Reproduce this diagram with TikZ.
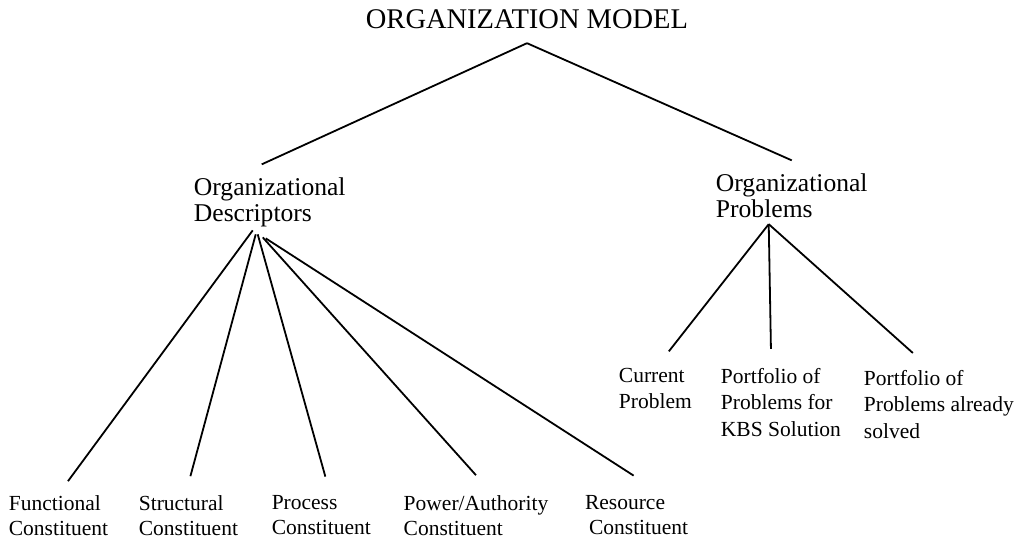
\documentclass[tikz,border=0pt]{standalone}
\usepackage{fontspec}
\setmainfont{Liberation Serif}
\usetikzlibrary{positioning}

\tikzset{
  head/.style={font=\fontsize{28.5}{30}\selectfont, inner sep=0pt},
  branch/.style={font=\fontsize{25.6}{26}\selectfont, align=left, inner sep=0pt},
  leaf/.style={font=\fontsize{21.5}{25}\selectfont, align=left, inner sep=0pt},
  probleaf/.style={leaf, font=\fontsize{21.5}{26.5}\selectfont},
}

\begin{document}
\begin{tikzpicture}[x=1pt,y=-1pt,line width=1.8pt,node distance=30pt]
  \useasboundingbox (0,0) rectangle (1016,544);

  % base anchor of a multi-line node sits on its last line
  \node[head, anchor=base] (model) at (527,28) {ORGANIZATION MODEL};
  \node[branch, anchor=base west] (desc) at (193,221) {Organizational\\Descriptors};
  \node[branch, anchor=base west] (prob) at (715,217) {Organizational\\Problems};

  \node[leaf, anchor=base west] (func) at (8,535) {Functional\\Constituent};
  \node[leaf] (struc) [right=29pt of func] {Structural\\Constituent};
  \node[leaf] (proc) [right=32pt of struc] {Process\\Constituent};
  \node[leaf] (power) [right=31pt of proc] {Power/Authority\\Constituent};
  \node[leaf] (res) [right=35pt of power] {Resource\\\hspace*{4pt}Constituent};

  \node[probleaf, anchor=base west] (cur) at (618,408.5) {Current\\Problem};
  \node[probleaf, anchor=base west] (kbs) at (720,436) {Portfolio of\\Problems for\\KBS Solution};
  \node[probleaf, anchor=base west] (solved) at (863,438) {Portfolio of\\Problems already\\solved};

  \path[draw]
    ([yshift=-14pt]model.south) edge ([xshift=-8pt,yshift=12pt]desc.north)
                                edge ([yshift=12pt]prob.north);

  \path[draw]
    ([xshift=-17pt,yshift=-3pt]desc.south) edge ([xshift=9.5pt,yshift=13pt]func.north)
    ([xshift=-14pt,yshift=-7pt]desc.south) edge ([xshift=2pt,yshift=18pt]struc.north)
    ([xshift=-12pt,yshift=-7pt]desc.south) edge ([xshift=4pt,yshift=18pt]proc.north)
    ([xshift=-7pt,yshift=-10pt]desc.south) edge ([yshift=19pt]power.north)
    ([xshift=-4pt,yshift=-11pt]desc.south) edge ([xshift=-3pt,yshift=19pt]res.north);

  \path[draw]
    ([xshift=-23pt,yshift=-6pt]prob.south) edge ([xshift=13.5pt,yshift=15.5pt]cur.north)
                                           edge ([xshift=-10pt,yshift=18pt]kbs.north)
                                           edge ([xshift=-26pt,yshift=16pt]solved.north);
\end{tikzpicture}
\end{document}
